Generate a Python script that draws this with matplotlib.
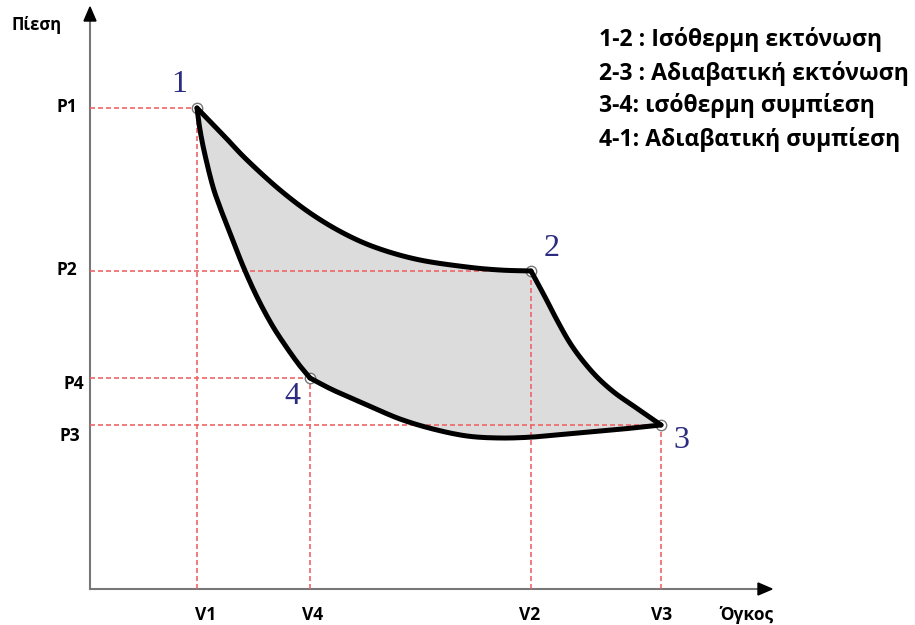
import matplotlib
matplotlib.use("Agg")
import numpy as np
import matplotlib.pyplot as plt
from matplotlib.patches import Polygon

plt.rcParams['font.family'] = ['Open Sans', 'DejaVu Sans']

# Cycle vertices (volume, pressure) in arbitrary units
V1, V4, V2, V3 = 10.7, 22.0, 44.1, 57.1
P1, P2, P4, P3 = 48.1, 31.8, 21.1, 16.4

# 1-2 isothermal expansion
v12 = [V1, 13.5, 15.7, 19.0, 22.3, 25.7, 29.0, 33.0, 37.7, 41.0, V2]
p12 = [P1, 45.2, 42.9, 39.9, 37.4, 35.4, 34.0, 32.9, 32.2, 31.9, P2]
# 2-3 adiabatic expansion
v23 = [V2, 45.5, 46.8, 48.0, 49.3, 50.8, 52.5, 54.5, V3]
p23 = [P2, 29.2, 26.7, 24.6, 22.8, 21.1, 19.6, 18.2, P3]
# 3-4 isothermal compression
v34 = [V3, 54.3, 51.0, 47.7, 44.3, 41.0, 37.7, 34.3, 31.0, 27.7, 24.3, V4]
p34 = [P3, 16.1, 15.8, 15.5, 15.2, 15.1, 15.3, 16.0, 17.0, 18.4, 19.9, P4]
# 4-1 adiabatic compression
v41 = [V4, 21.0, 19.7, 18.2, 16.7, 15.3, 14.0, 13.1, 12.3, 11.5, 11.0, V1]
p41 = [P4, 22.3, 24.1, 26.4, 29.2, 32.3, 35.6, 37.9, 40.2, 43.4, 45.9, P1]

p_labels = ['P1', 'P2', 'P4', 'P3']
v_labels = ['V1', 'V4', 'V2', 'V3']
point_names = ['1', '2', '3', '4']
legend_lines = [
    '1-2 : Ισόθερμη εκτόνωση',
    '2-3 : Αδιαβατική εκτόνωση',
    '3-4: ισόθερμη συμπίεση',
    '4-1: Αδιαβατική συμπίεση',
]


def smooth(xs, ys, n=12):
    """Catmull-Rom curve through the given points, for a smooth stroke."""
    x = np.asarray(xs, float)
    y = np.asarray(ys, float)
    px = np.concatenate([[2 * x[0] - x[1]], x, [2 * x[-1] - x[-2]]])
    py = np.concatenate([[2 * y[0] - y[1]], y, [2 * y[-1] - y[-2]]])
    t = np.linspace(0, 1, n, endpoint=False)
    ox, oy = [], []
    for i in range(1, len(px) - 2):
        for arr, out in ((px, ox), (py, oy)):
            a0, a1, a2, a3 = arr[i - 1], arr[i], arr[i + 1], arr[i + 2]
            out.extend(0.5 * (2 * a1 + (-a0 + a2) * t
                              + (2 * a0 - 5 * a1 + 4 * a2 - a3) * t ** 2
                              + (-a0 + 3 * a1 - 3 * a2 + a3) * t ** 3))
    ox.append(x[-1])
    oy.append(y[-1])
    return np.array(ox), np.array(oy)


fig = plt.figure(figsize=(9.15, 6.25), dpi=100)
ax = fig.add_axes([0, 0, 1, 1])
ax.set_xlim(-9.0, 82.5)
ax.set_ylim(-3.6, 58.9)
ax.axis('off')

x_end, y_end = 68.2, 58.2
axis_col = '#777777'
# axes with arrowheads
ax.plot([0, x_end - 1.0], [0, 0], color=axis_col, lw=1.5, zorder=2)
ax.plot([0, 0], [0, y_end - 1.0], color=axis_col, lw=1.5, zorder=2)
ax.add_patch(Polygon([[x_end, 0], [x_end - 1.4, 0.6], [x_end - 1.4, -0.6]],
                     closed=True, color='black', zorder=3))
ax.add_patch(Polygon([[0, y_end], [-0.6, y_end - 1.4], [0.6, y_end - 1.4]],
                     closed=True, color='black', zorder=3))

segments = [smooth(v12, p12), smooth(v23, p23), smooth(v34, p34), smooth(v41, p41)]

# shaded cycle area
vv = np.concatenate([s[0] for s in segments])
pp = np.concatenate([s[1] for s in segments])
ax.fill(vv, pp, color='#dcdcdc', lw=0, zorder=1)

# dashed guide lines
red = '#f06666'
for v, p in [(V1, P1), (V2, P2), (V4, P4), (V3, P3)]:
    ax.plot([0, v], [p, p], color=red, lw=1.2, dashes=(3.0, 1.8), zorder=4)
    ax.plot([v, v], [0, p], color=red, lw=1.2, dashes=(3.0, 1.8), zorder=4)

# vertex markers
ax.plot([V1, V2, V3, V4], [P1, P2, P3, P4], 'o', ms=7.5, mfc='white',
        mec='#777777', mew=1.0, zorder=5, ls='none')

# cycle curves
for sx, sy in segments:
    ax.plot(sx, sy, color='black', lw=3.6, solid_joinstyle='round',
            solid_capstyle='round', zorder=6)

# state numbers
num_col = '#2b2b80'
num_pos = [(V1 - 1.8, P1 + 2.4), (V2 + 2.1, P2 + 2.3), (V3 + 2.0, P3 - 1.6), (V4 - 1.8, P4 - 1.8)]
for name, (x, y) in zip(point_names, num_pos):
    ax.text(x, y, name, fontsize=23, color=num_col, family='Liberation Serif',
            ha='center', va='center', zorder=7)

# pressure labels
p_vals = [P1, P2, P4, P3]
p_xr = [-1.3, -1.3, -0.6, -1.0]
p_dy = [0.1, 0.1, -0.6, -1.1]
for lab, p, xr, dy in zip(p_labels, p_vals, p_xr, p_dy):
    ax.text(xr, p + dy, lab, fontsize=12.5, fontweight='bold', ha='right',
            va='center', color='black')

# volume labels
v_vals = [V1, V4, V2, V3]
v_dx = [0.9, 0.3, -0.1, 0.1]
for lab, v, dx in zip(v_labels, v_vals, v_dx):
    ax.text(v + dx, -2.55, lab, fontsize=12.5, fontweight='bold', ha='center',
            va='center', color='black')

ax.text(65.7, -2.55, 'Όγκος', fontsize=12.5, fontweight='bold', ha='center',
        va='center', color='black')
ax.text(-5.3, 56.4, 'Πίεση', fontsize=12, fontweight='bold', ha='center',
        va='center', color='black')

# process descriptions
for i, line in enumerate(legend_lines):
    ax.text(50.9, 54.9 - i * 3.3, line, fontsize=16.6, fontweight='bold',
            ha='left', va='center', color='black')

fig.savefig('out.png', dpi=100)
